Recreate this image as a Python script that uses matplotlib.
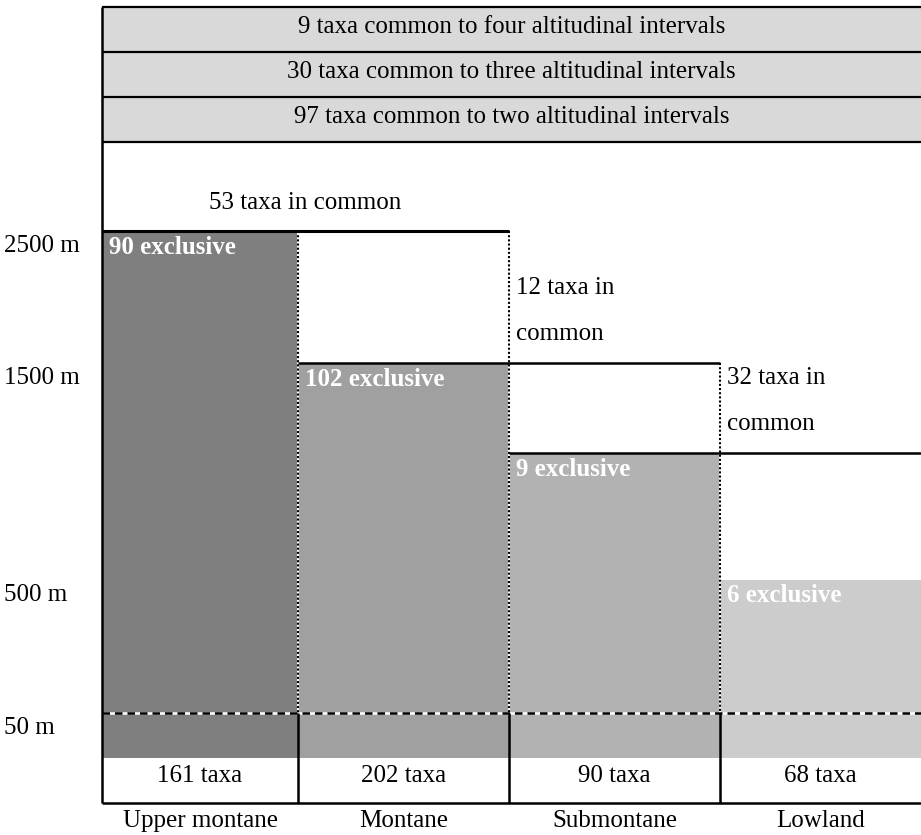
import matplotlib.pyplot as plt
from matplotlib.patches import Rectangle

plt.rcParams['font.family'] = ['Liberation Serif', 'DejaVu Serif']

# donnees
zones = ['Upper montane', 'Montane', 'Submontane', 'Lowland']
totals = [161, 202, 90, 68]
exclusive = [90, 102, 9, 6]
common_pairs = [53, 12, 32]
common_multi = [9, 30, 97]
multi_words = ['four', 'three', 'two']
altitudes = ['2500 m', '1500 m', '500 m', '50 m']

# mise en page (pixels)
col_x = [102, 298, 509, 720, 921]          # bords des colonnes
zone_top = [231, 363, 453, 580]            # haut de la zone grise
band_y = [7, 52, 97, 142]                  # bandes du haut
y_50 = 713                                 # ligne des 50 m
y_grey_end = 758
y_bottom = 803
greys = ['#7f7f7f', '#a0a0a0', '#b2b2b2', '#cccccc']
band_col = '#d9d9d9'
fs = 18

fig = plt.figure(figsize=(9.21, 8.35), dpi=100)
ax = fig.add_axes([0, 0, 1, 1])
ax.set_xlim(0, 921)
ax.set_ylim(835, 0)
ax.axis('off')

# bandes du haut
for i in range(3):
    ax.add_patch(Rectangle((col_x[0], band_y[i]), col_x[-1] - col_x[0], band_y[i+1] - band_y[i],
                           facecolor=band_col, edgecolor='none'))
    ax.text((col_x[0] + col_x[-1]) / 2, band_y[i] + 20,
            f"{common_multi[i]} taxa common to {multi_words[i]} altitudinal intervals",
            ha='center', va='center', fontsize=fs)
ax.hlines(band_y, col_x[0], col_x[-1], colors='black', lw=1.6)

# colonnes grises
for i in range(4):
    w = col_x[i+1] - col_x[i]
    ax.bar(col_x[i], y_grey_end - zone_top[i], width=w, bottom=zone_top[i], align='edge',
           color=greys[i], edgecolor='none', zorder=1)
    ax.text(col_x[i] + 7, zone_top[i] + 16, f"{exclusive[i]} exclusive", color='white',
            fontweight='bold', ha='left', va='center', fontsize=fs, zorder=5)
    ax.text((col_x[i] + col_x[i+1]) / 2, (y_grey_end + y_bottom) / 2 - 4, f"{totals[i]} taxa",
            ha='center', va='center', fontsize=fs)
    ax.text((col_x[i] + col_x[i+1]) / 2, y_bottom + 18, zones[i],
            ha='center', va='center', fontsize=fs)

# taxa en commun
ax.text((col_x[0] + col_x[2]) / 2, zone_top[0] - 28, f"{common_pairs[0]} taxa in common",
        ha='center', va='center', fontsize=fs)
ax.text(col_x[2] + 7, zone_top[0] + 57, f"{common_pairs[1]} taxa in", ha='left', va='center', fontsize=fs)
ax.text(col_x[2] + 7, zone_top[0] + 103, "common", ha='left', va='center', fontsize=fs)
ax.text(col_x[3] + 7, zone_top[1] + 15, f"{common_pairs[2]} taxa in", ha='left', va='center', fontsize=fs)
ax.text(col_x[3] + 7, zone_top[1] + 61, "common", ha='left', va='center', fontsize=fs)

# altitudes
alt_y = [zone_top[0], zone_top[1], zone_top[3], y_50]
for lab, y in zip(altitudes, alt_y):
    ax.text(4, y + 15, lab, ha='left', va='center', fontsize=fs)

# lignes pleines
ax.hlines(zone_top[0], col_x[0], col_x[2], colors='black', lw=2.2, zorder=4)
ax.hlines(zone_top[1], col_x[1], col_x[3], colors='black', lw=1.8, zorder=4)
ax.hlines(zone_top[2], col_x[2], col_x[4], colors='black', lw=1.8, zorder=4)
ax.hlines(y_bottom, col_x[0], col_x[-1], colors='black', lw=1.8, zorder=4)
ax.vlines(col_x[0], band_y[0], y_bottom, colors='black', lw=1.8, zorder=4)
ax.vlines(col_x[1:4], y_50, y_bottom, colors='black', lw=1.8, zorder=4)

# lignes pointillees
tops = [zone_top[0], zone_top[0], zone_top[1]]
for x, t in zip(col_x[1:4], tops):
    ax.vlines(x, t, y_50, colors='white', lw=1.5, zorder=3)
    ax.vlines(x, t, y_50, colors='black', lw=1.5, linestyles=(0, (1, 1)), zorder=4)
ax.hlines(y_50, col_x[0], col_x[-1], colors='white', lw=1.8, zorder=3)
ax.hlines(y_50, col_x[0], col_x[-1], colors='black', lw=1.8, linestyles=(0, (3, 2)), zorder=4)

plt.savefig('out.png', dpi=100)
